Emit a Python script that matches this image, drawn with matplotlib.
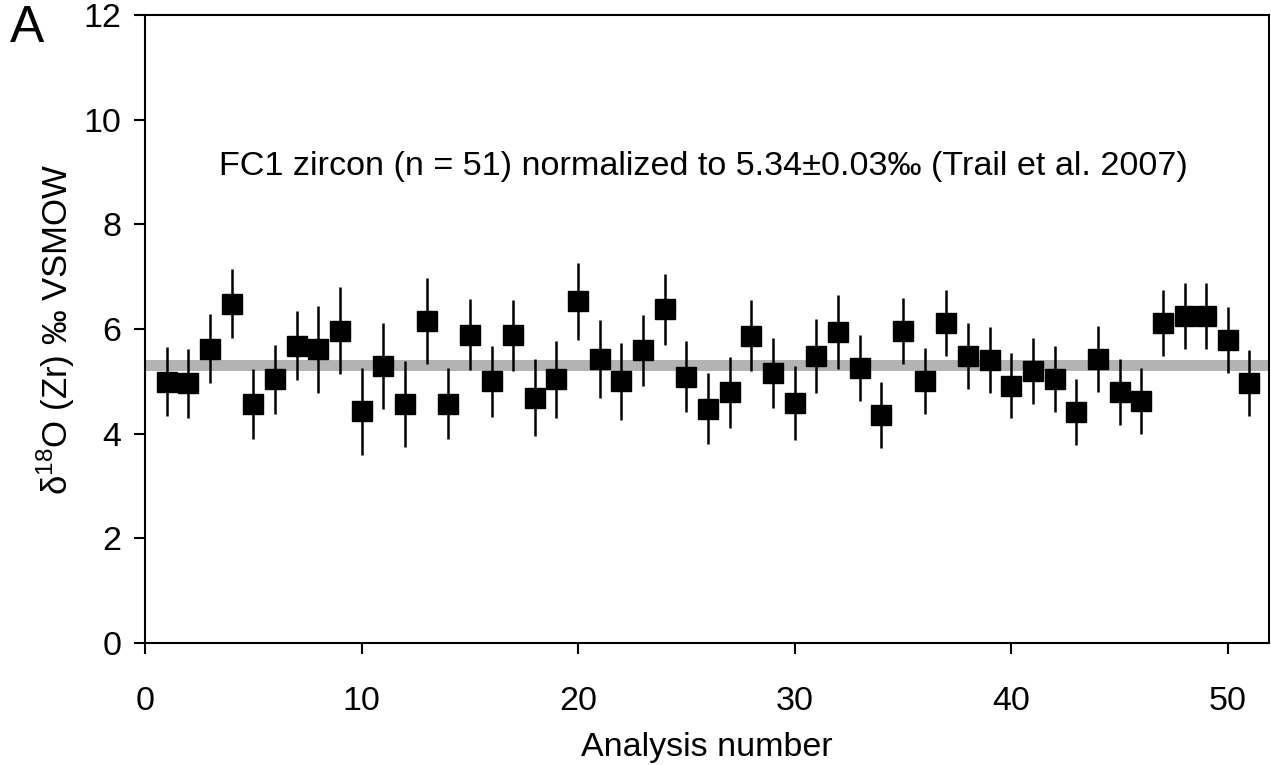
import numpy as np
import matplotlib
matplotlib.use("Agg")
import matplotlib.pyplot as plt

plt.rcParams['font.family'] = ['Liberation Sans', 'DejaVu Sans']
plt.rcParams['mathtext.fontset'] = 'custom'
plt.rcParams['mathtext.rm'] = 'Liberation Sans'

# FC1 zircon analyses, d18O (permil) and 2SE
analysis = np.arange(1, 52)
d18o = [4.99, 4.96, 5.62, 6.48, 4.57, 5.04, 5.68, 5.61, 5.97, 4.43,
        5.29, 4.56, 6.15, 4.57, 5.89, 5.00, 5.88, 4.69, 5.04, 6.53,
        5.43, 5.00, 5.59, 6.38, 5.09, 4.48, 4.79, 5.87, 5.16, 4.58,
        5.48, 5.94, 5.26, 4.35, 5.97, 5.00, 6.11, 5.49, 5.40, 4.92,
        5.19, 5.04, 4.41, 5.43, 4.80, 4.62, 6.11, 6.25, 6.25, 5.79,
        4.97]
err = [0.66, 0.66, 0.66, 0.66, 0.67, 0.66, 0.66, 0.83, 0.83, 0.83,
       0.82, 0.82, 0.82, 0.68, 0.68, 0.68, 0.68, 0.74, 0.74, 0.74,
       0.74, 0.74, 0.68, 0.68, 0.68, 0.68, 0.68, 0.68, 0.67, 0.71,
       0.71, 0.71, 0.63, 0.63, 0.63, 0.63, 0.63, 0.63, 0.63, 0.63,
       0.63, 0.63, 0.63, 0.63, 0.63, 0.63, 0.63, 0.63, 0.63, 0.63,
       0.63]
band_lo, band_hi = 5.19, 5.41

fig = plt.figure(figsize=(12.71, 7.65), dpi=100)
ax = fig.add_axes([0.1141, 0.1595, 0.8843, 0.8209])

ax.axhspan(band_lo, band_hi, color='#b3b3b3', lw=0, zorder=1)
ax.errorbar(analysis, d18o, yerr=err, fmt='s', color='black', ms=14,
            elinewidth=1.8, capsize=0, zorder=3)

ax.set_xlim(0, 51.9)
ax.set_ylim(0, 12)
ax.set_xticks(range(0, 51, 10))
ax.set_yticks(range(0, 13, 2))
for s in ax.spines.values():
    s.set_linewidth(1.5)
ax.tick_params(direction='out', length=8, width=1.5, labelsize=24.5, pad=9)
ax.tick_params(axis='x', pad=23)

ax.set_xlabel('Analysis number', fontsize=24.5, labelpad=11)
ax.set_ylabel(r'δ$^{18}$O (Zr) ‰ VSMOW', fontsize=25, labelpad=5)

ax.text(25.8, 9.1, 'FC1 zircon (n = 51) normalized to 5.34±0.03‰ (Trail et al. 2007)',
        fontsize=24.6, ha='center', va='center')
fig.text(0.008, 0.995, 'A', fontsize=37, ha='left', va='top')

fig.savefig('out.png', dpi=100)
